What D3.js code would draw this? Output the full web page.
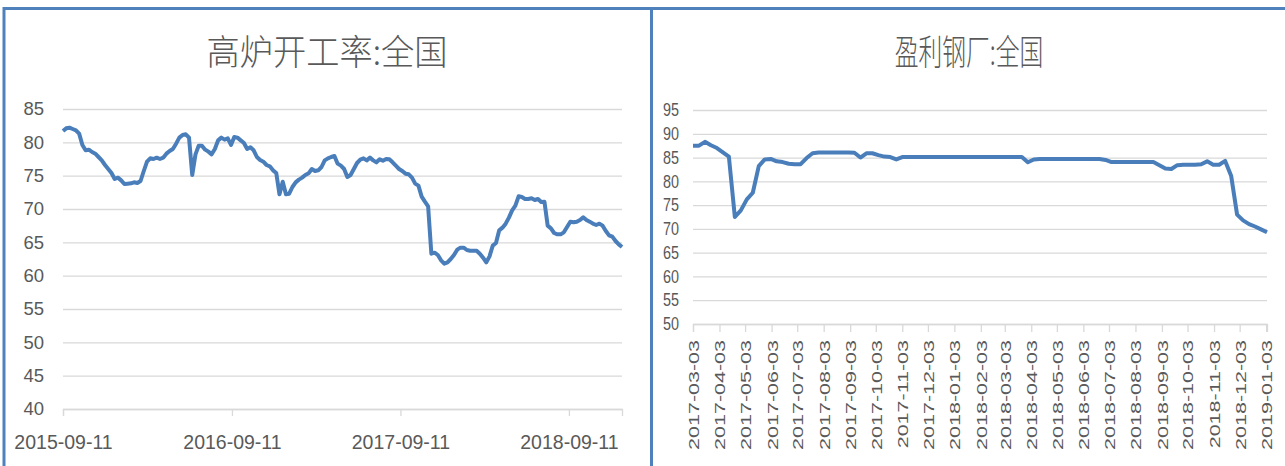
<!DOCTYPE html>
<html>
<head>
<meta charset="utf-8">
<script src="https://cdn.jsdelivr.net/npm/d3@7"></script>
<style>
  body { margin: 0; background: #fff; }
  svg { display: block; }
</style>
</head>
<body>
<script>
// ---- data ----
const furnaceTitle = "高炉开工率:全国";
const furnaceStart = "2015-09-11";   // weekly, every friday
const furnaceRate = [
  81.7, 82.1, 82.2, 82.0, 81.8, 81.3, 79.6, 78.8, 78.9, 78.55,
  78.3, 77.8, 77.3, 76.6, 76.0, 75.4, 74.5, 74.7, 74.3, 73.75,
  73.8, 73.85, 74.0, 73.9, 74.2, 75.7, 77.1, 77.6, 77.5, 77.7,
  77.5, 77.7, 78.3, 78.7, 79.0, 79.8, 80.7, 81.1, 81.2, 80.7,
  75.1, 78.2, 79.5, 79.5, 78.9, 78.6, 78.2, 79.0, 80.3, 80.7,
  80.4, 80.6, 79.6, 80.8, 80.7, 80.3, 79.9, 79.0, 79.25, 78.8,
  77.8, 77.35, 77.1, 76.6, 76.4, 75.8, 75.4, 72.2, 74.1, 72.2,
  72.3, 73.3, 74.0, 74.4, 74.7, 75.1, 75.35, 76.0, 75.7, 75.8,
  76.3, 77.3, 77.6, 77.8, 77.95, 76.8, 76.5, 76.0, 74.8, 75.1,
  76.0, 76.9, 77.4, 77.6, 77.3, 77.7, 77.3, 77.0, 77.45, 77.25,
  77.5, 77.45, 77.0, 76.5, 76.0, 75.7, 75.3, 75.2, 74.7, 73.8,
  73.5, 71.85, 71.1, 70.4, 63.3, 63.45, 63.1, 62.3, 61.8, 62.0,
  62.5, 63.1, 63.9, 64.2, 64.2, 63.85, 63.75, 63.75, 63.75, 63.3,
  62.7, 62.0, 62.9, 64.5, 64.9, 66.8, 67.2, 67.8, 68.7, 69.8,
  70.5, 71.9, 71.8, 71.5, 71.5, 71.6, 71.35, 71.5, 71.05, 71.1,
  67.5, 67.1, 66.4, 66.2, 66.2, 66.5, 67.3, 68.1, 68.0, 68.1,
  68.35, 68.75, 68.35, 68.1, 67.8, 67.6, 67.8, 67.5, 66.7, 66.05,
  65.85, 65.2, 64.7, 64.3
];
const furnaceXTicks = ["2015-09-11", "2016-09-11", "2017-09-11", "2018-09-11"];
const furnaceYTicks = [40, 45, 50, 55, 60, 65, 70, 75, 80, 85];

const profitTitle = "盈利钢厂:全国";
const profitStart = "2017-03-03";    // weekly, every friday
const profitRate = [
  87.5, 87.5, 88.3, 87.6, 87.0, 86.1, 85.2, 72.5, 73.9, 76.2,
  77.6, 83.2, 84.6, 84.7, 84.2, 84.05, 83.7, 83.6, 83.6, 84.9,
  85.9, 86.05, 86.05, 86.05, 86.05, 86.05, 86.05, 86.0, 85.0, 85.9,
  85.9, 85.5, 85.2, 85.1, 84.6, 85.1, 85.1, 85.1, 85.1, 85.1,
  85.1, 85.1, 85.1, 85.1, 85.1, 85.1, 85.1, 85.1, 85.1, 85.1,
  85.1, 85.1, 85.1, 85.1, 85.1, 85.1, 84.0, 84.6, 84.7, 84.7,
  84.7, 84.7, 84.7, 84.7, 84.7, 84.7, 84.7, 84.7, 84.7, 84.5,
  84.05, 84.05, 84.05, 84.05, 84.05, 84.05, 84.05, 84.05, 83.4, 82.7,
  82.6, 83.4, 83.5, 83.5, 83.5, 83.6, 84.2, 83.5, 83.5, 84.3,
  81.2, 73.0, 71.8, 71.0, 70.5, 69.9, 69.3
];
const profitXTicks = [
  "2017-03-03", "2017-04-03", "2017-05-03", "2017-06-03", "2017-07-03", "2017-08-03",
  "2017-09-03", "2017-10-03", "2017-11-03", "2017-12-03", "2018-01-03", "2018-02-03",
  "2018-03-03", "2018-04-03", "2018-05-03", "2018-06-03", "2018-07-03", "2018-08-03",
  "2018-09-03", "2018-10-03", "2018-11-03", "2018-12-03", "2019-01-03"
];
const profitYTicks = [50, 55, 60, 65, 70, 75, 80, 85, 90, 95];

// ---- look ----
const lineColor = "#4a7ebb",
      frameColor = "#4f81bd",
      gridColor = "#d9d9d9",
      textColor = "#595959";

const parse = d3.timeParse("%Y-%m-%d");

function weekly(start, values) {
  const t0 = parse(start);
  return values.map((v, i) => ({date: d3.timeDay.offset(t0, i * 7), value: v}));
}

const svg = d3.select("body")
  .append("svg")
    .attr("width", 1285)
    .attr("height", 466);

// frame lines
svg.append("line").attr("x1", 3).attr("x2", 1285).attr("y1", 8.5).attr("y2", 8.5)
  .attr("stroke", frameColor).attr("stroke-width", 3);
svg.append("line").attr("x1", 4).attr("x2", 4).attr("y1", 7).attr("y2", 466)
  .attr("stroke", frameColor).attr("stroke-width", 3);
svg.append("line").attr("x1", 651.5).attr("x2", 651.5).attr("y1", 7).attr("y2", 466)
  .attr("stroke", frameColor).attr("stroke-width", 3);

// ===== left chart: 高炉开工率 =====
const furnaceData = weekly(furnaceStart, furnaceRate);

const x1 = d3.scaleTime()
  .domain([parse(furnaceStart), furnaceData[furnaceData.length - 1].date])
  .range([63, 622]);
const y1 = d3.scaleLinear()
  .domain([40, 85])
  .range([409, 109]);

svg.append("text")
  .attr("transform", "translate(327,50) scale(0.95,1)")
  .attr("text-anchor", "middle")
  .attr("dominant-baseline", "central")
  .style("font-family", "'Noto Sans CJK SC', sans-serif")
  .style("font-weight", 300)
  .style("font-size", "35px")
  .attr("fill", textColor)
  .text(furnaceTitle);

// y grid + labels
const yAxis1 = svg.append("g")
  .attr("transform", "translate(63,0)")
  .call(d3.axisLeft(y1).tickValues(furnaceYTicks).tickSize(-559).tickPadding(19));
yAxis1.select(".domain").remove();
yAxis1.selectAll("line").attr("stroke", gridColor).attr("stroke-width", 1.3);
yAxis1.selectAll("text")
  .attr("fill", textColor)
  .style("font-family", "'Liberation Sans', Arial, sans-serif")
  .style("font-size", "18.5px");

// x axis
const xAxis1 = svg.append("g")
  .attr("transform", "translate(0,409)")
  .call(d3.axisBottom(x1)
    .tickValues(furnaceXTicks.map(parse))
    .tickFormat(d3.timeFormat("%Y-%m-%d"))
    .tickSize(7).tickPadding(19));
xAxis1.select(".domain").attr("stroke", gridColor).attr("stroke-width", 1.3);
xAxis1.selectAll("line").attr("stroke", gridColor).attr("stroke-width", 1.3);
xAxis1.selectAll("text")
  .attr("fill", textColor)
  .style("font-family", "'Liberation Sans', Arial, sans-serif")
  .style("font-size", "19.5px");

svg.append("path")
  .datum(furnaceData)
  .attr("fill", "none")
  .attr("stroke", lineColor)
  .attr("stroke-width", 4)
  .attr("stroke-linejoin", "round")
  .attr("d", d3.line()
    .x(function(d) { return x1(d.date); })
    .y(function(d) { return y1(d.value); }));

// ===== right chart: 盈利钢厂 =====
const profitData = weekly(profitStart, profitRate);

const x2 = d3.scaleTime()
  .domain([parse(profitStart), profitData[profitData.length - 1].date])
  .range([693, 1267]);
const y2 = d3.scaleLinear()
  .domain([50, 95])
  .range([324, 110]);

svg.append("text")
  .attr("transform", "translate(969,50) scale(0.68,1)")
  .attr("text-anchor", "middle")
  .attr("dominant-baseline", "central")
  .style("font-family", "'Noto Sans CJK SC', sans-serif")
  .style("font-weight", 300)
  .style("font-size", "35px")
  .attr("fill", textColor)
  .text(profitTitle);

const yAxis2 = svg.append("g")
  .attr("transform", "translate(693,0)")
  .call(d3.axisLeft(y2).tickValues(profitYTicks).tickSize(-574).tickPadding(0));
yAxis2.select(".domain").remove();
yAxis2.selectAll("line").attr("stroke", gridColor).attr("stroke-width", 1.3);
yAxis2.selectAll("text")
  .attr("x", 0)
  .attr("transform", "translate(-14,0) scale(0.8,1)")
  .attr("fill", textColor)
  .style("font-family", "'Liberation Sans', Arial, sans-serif")
  .style("font-size", "18px");

const xAxis2 = svg.append("g")
  .attr("transform", "translate(0,324)")
  .call(d3.axisBottom(x2)
    .tickValues(profitXTicks.map(parse))
    .tickFormat(d3.timeFormat("%Y-%m-%d"))
    .tickSize(8));
xAxis2.select(".domain").attr("stroke", gridColor).attr("stroke-width", 1.3);
xAxis2.selectAll("line").attr("stroke", gridColor).attr("stroke-width", 1.3);
xAxis2.selectAll("text")
  .attr("y", 0)
  .attr("dy", "0.35em")
  .attr("transform", "translate(0,16) scale(0.72,1) rotate(-90)")
  .style("text-anchor", "end")
  .attr("fill", textColor)
  .style("font-family", "'Liberation Sans', Arial, sans-serif")
  .style("font-size", "21.5px");

svg.append("path")
  .datum(profitData)
  .attr("fill", "none")
  .attr("stroke", lineColor)
  .attr("stroke-width", 4)
  .attr("stroke-linejoin", "round")
  .attr("d", d3.line()
    .x(function(d) { return x2(d.date); })
    .y(function(d) { return y2(d.value); }));
</script>
</body>
</html>
